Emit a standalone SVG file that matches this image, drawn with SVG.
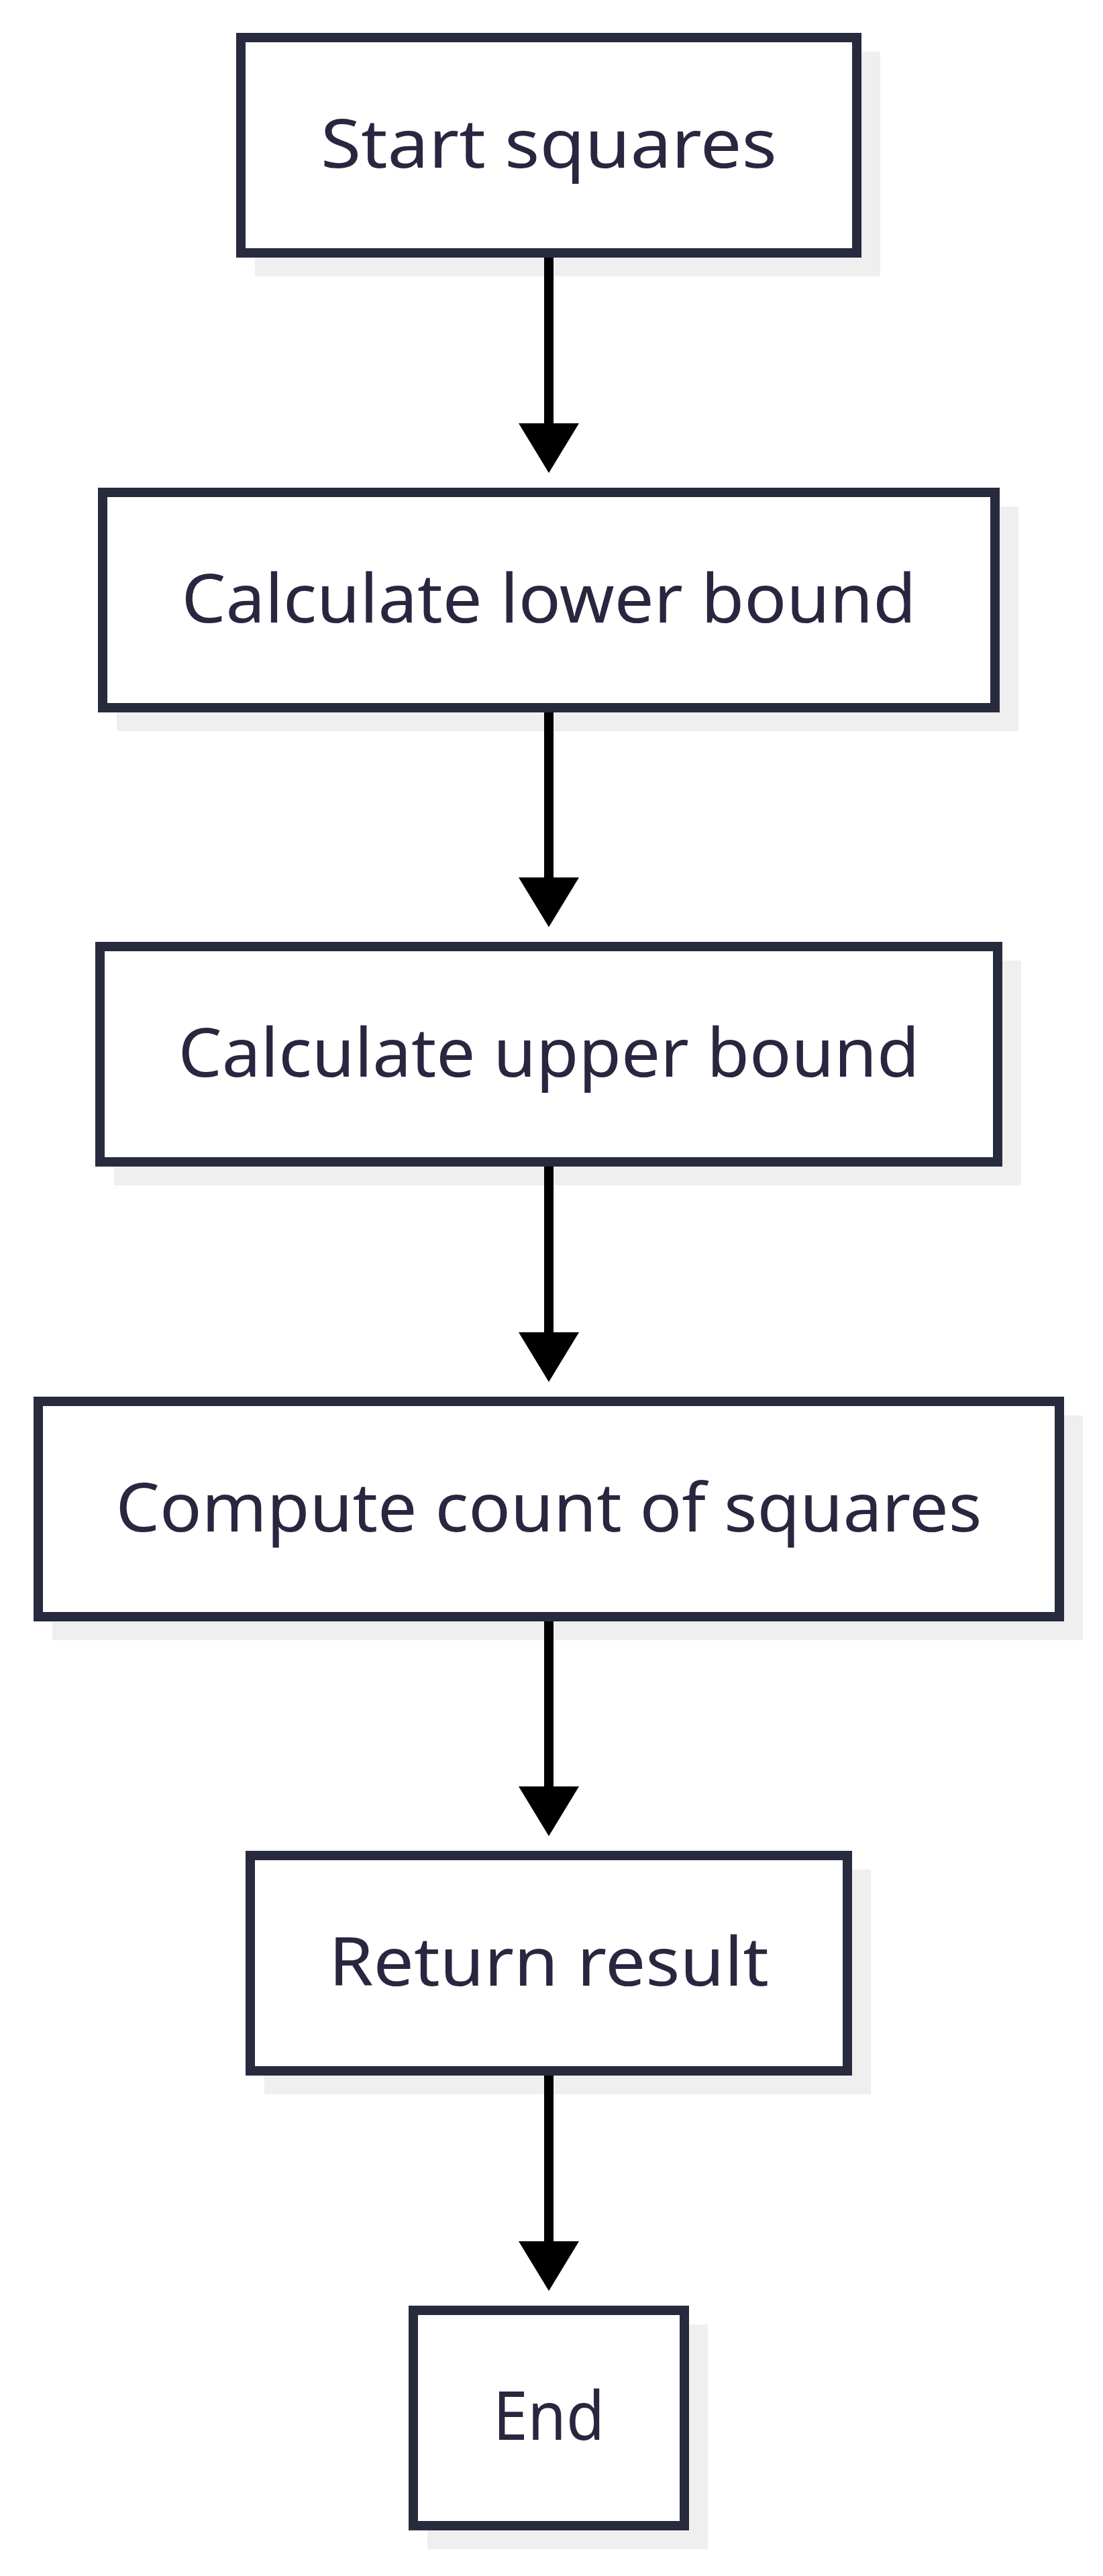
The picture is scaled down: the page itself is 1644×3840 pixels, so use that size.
<svg xmlns="http://www.w3.org/2000/svg" width="1644" height="3840" viewBox="0 0 1644 3840">
  <style>
    .shadow { fill: #efefef; stroke: none; }
    .box { fill: #ffffff; stroke: #282a3e; stroke-width: 14; }
    .label { font-family: "Noto Sans", "Open Sans", "Liberation Sans", sans-serif; font-size: 100px; fill: #2a263f; text-anchor: middle; }
    .edge { stroke: #000000; stroke-width: 14; fill: none; }
  </style>
  <defs>
    <marker id="arrow" markerUnits="userSpaceOnUse" markerWidth="74" markerHeight="90" refX="0" refY="45" orient="auto" viewBox="0 0 74 90">
      <path d="M0,0 L74,45 L0,90 Z" fill="#000000"/>
    </marker>
  </defs>
  <rect x="0" y="0" width="1644" height="3840" fill="#ffffff"/>

  <g id="node-start">
    <rect class="shadow" x="380" y="77" width="932" height="335"/>
    <rect class="box" x="359" y="56" width="918" height="321"/>
    <text class="label" x="818" y="250" textLength="680" lengthAdjust="spacingAndGlyphs">Start squares</text>
  </g>

  <g id="node-lower">
    <rect class="shadow" x="174" y="755" width="1344" height="335"/>
    <rect class="box" x="153" y="734" width="1330" height="321"/>
    <text class="label" x="818" y="928" textLength="1095" lengthAdjust="spacingAndGlyphs">Calculate lower bound</text>
  </g>

  <g id="node-upper">
    <rect class="shadow" x="170" y="1432" width="1352" height="335"/>
    <rect class="box" x="149" y="1411" width="1338" height="321"/>
    <text class="label" x="818" y="1605" textLength="1105" lengthAdjust="spacingAndGlyphs">Calculate upper bound</text>
  </g>

  <g id="node-count">
    <rect class="shadow" x="78" y="2110" width="1536" height="335"/>
    <rect class="box" x="57" y="2089" width="1522" height="321"/>
    <text class="label" x="818" y="2283" textLength="1291" lengthAdjust="spacingAndGlyphs">Compute count of squares</text>
  </g>

  <g id="node-return">
    <rect class="shadow" x="394" y="2787" width="904" height="335"/>
    <rect class="box" x="373" y="2766" width="890" height="321"/>
    <text class="label" x="818" y="2960" textLength="656" lengthAdjust="spacingAndGlyphs">Return result</text>
  </g>

  <g id="node-end">
    <rect class="shadow" x="637" y="3465" width="418" height="335"/>
    <rect class="box" x="616" y="3444" width="404" height="321"/>
    <text class="label" x="818" y="3637" textLength="166" lengthAdjust="spacingAndGlyphs">End</text>
  </g>

  <g id="connectors">
    <line class="edge" x1="818" y1="384" x2="818" y2="631" marker-end="url(#arrow)"/>
    <line class="edge" x1="818" y1="1062" x2="818" y2="1308" marker-end="url(#arrow)"/>
    <line class="edge" x1="818" y1="1739" x2="818" y2="1986" marker-end="url(#arrow)"/>
    <line class="edge" x1="818" y1="2417" x2="818" y2="2663" marker-end="url(#arrow)"/>
    <line class="edge" x1="818" y1="3094" x2="818" y2="3341" marker-end="url(#arrow)"/>
  </g>
</svg>
